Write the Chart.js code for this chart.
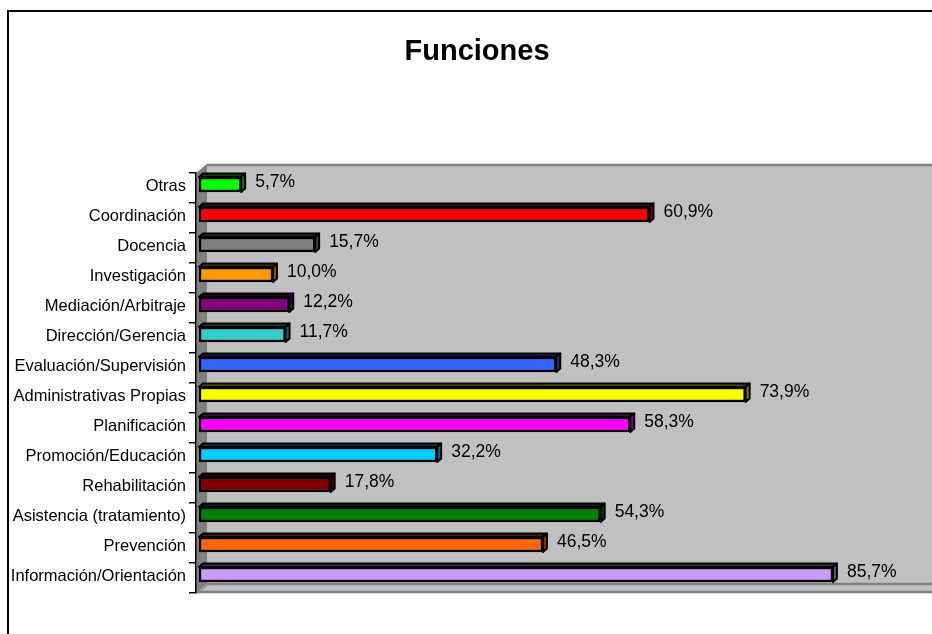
<!DOCTYPE html>
<html>
<head>
<meta charset="utf-8">
<script src="https://cdn.jsdelivr.net/npm/chart.js@4/dist/chart.umd.min.js"></script>
<style>
html,body{margin:0;padding:0;background:#fff;}
#c{display:block;width:932px;height:634px;}
</style>
</head>
<body>
<canvas id="c" width="932" height="634"></canvas>
<script>
// ---- data (top to bottom) ----
const titleText = 'Funciones';
const categories = [
  'Otras', 'Coordinación', 'Docencia', 'Investigación', 'Mediación/Arbitraje',
  'Dirección/Gerencia', 'Evaluación/Supervisión', 'Administrativas Propias',
  'Planificación', 'Promoción/Educación', 'Rehabilitación',
  'Asistencia (tratamiento)', 'Prevención', 'Información/Orientación'
];
const values = [5.7, 60.9, 15.7, 10.0, 12.2, 11.7, 48.3, 73.9, 58.3, 32.2, 17.8, 54.3, 46.5, 85.7];
const barColors = [
  '#00FF00', '#FF0000', '#808080', '#FF9900', '#800080',
  '#33CCCC', '#3366FF', '#FFFF00', '#FF00FF', '#00CCFF',
  '#800000', '#008000', '#FF6600', '#CC99FF'
];
const xMin = 0;
const xMax = 99.5;

// ---- styling constants ----
const FONT = '"Liberation Sans", Arial, Helvetica, sans-serif';
const WALL = {dx: 11, dy: 9};
const BAR_SHIFT = {dx: 3, dy: -3.5};
const BAR_DEPTH = {dx: 4, dy: 3.5};

function shade(hex, f) {
  const n = parseInt(hex.slice(1), 16);
  const r = Math.round(((n >> 16) & 255) * f);
  const g = Math.round(((n >> 8) & 255) * f);
  const b = Math.round((n & 255) * f);
  return `rgb(${r},${g},${b})`;
}
function poly(ctx, pts) {
  ctx.beginPath();
  ctx.moveTo(pts[0], pts[1]);
  for (let i = 2; i < pts.length; i += 2) ctx.lineTo(pts[i], pts[i + 1]);
  ctx.closePath();
}
function fmt(v) { return v.toFixed(1).replace('.', ',') + '%'; }

const scenePlugin = {
  id: 'scene',
  beforeDraw(chart) {
    const ctx = chart.ctx, a = chart.chartArea;
    const W = chart.width, H = chart.height;
    ctx.save();
    ctx.fillStyle = '#fff';
    ctx.fillRect(0, 0, W, H);
    // outer frame
    ctx.strokeStyle = '#000';
    ctx.lineWidth = 2;
    ctx.beginPath();
    ctx.moveTo(8, H + 2); ctx.lineTo(8, 11); ctx.lineTo(W + 2, 11);
    ctx.stroke();
    // title
    ctx.fillStyle = '#000';
    ctx.font = 'bold 29px ' + FONT;
    ctx.textAlign = 'center';
    ctx.textBaseline = 'alphabetic';
    ctx.fillText(titleText, 477, 59.5);
    // walls
    const bx = a.left + WALL.dx, by = a.top - WALL.dy, bb = a.bottom - WALL.dy;
    const R = W + 20;
    ctx.fillStyle = '#C0C0C0';
    ctx.fillRect(bx, by, R - bx, bb - by);
    ctx.fillStyle = '#808080';
    poly(ctx, [a.left, a.top, bx, by, bx, bb, a.left, a.bottom]);
    ctx.fill();
    ctx.fillStyle = '#C0C0C0';
    poly(ctx, [a.left, a.bottom, bx, bb, R, bb, R, a.bottom]);
    ctx.fill();
    ctx.fillStyle = '#9a9a9a';
    poly(ctx, [a.left, a.bottom, bx, bb, bx + 3, bb, a.left + 3, a.bottom]);
    ctx.fill();
    ctx.strokeStyle = '#808080';
    ctx.lineWidth = 2.5;
    ctx.beginPath();
    ctx.moveTo(bx, by + 1); ctx.lineTo(R, by + 1);
    ctx.moveTo(bx, bb); ctx.lineTo(R, bb);
    ctx.moveTo(a.left, a.bottom - 1); ctx.lineTo(R, a.bottom - 1);
    ctx.stroke();
    ctx.restore();
  },
  beforeDatasetsDraw(chart) {
    chart.ctx.save();
    chart.ctx.translate(BAR_SHIFT.dx, BAR_SHIFT.dy);
  },
  afterDatasetsDraw(chart) {
    const ctx = chart.ctx;
    const meta = chart.getDatasetMeta(0);
    meta.data.forEach((el, i) => {
      const p = el.getProps(['x', 'y', 'base', 'height'], true);
      const l = Math.min(p.base, p.x), r = Math.max(p.base, p.x);
      const t = p.y - p.height / 2, b = p.y + p.height / 2;
      const dx = BAR_DEPTH.dx, dy = BAR_DEPTH.dy;
      ctx.lineWidth = 2;
      ctx.strokeStyle = '#000';
      ctx.lineJoin = 'round';
      ctx.fillStyle = shade(barColors[i], 0.3);
      poly(ctx, [l, t, l + dx, t - dy, r + dx, t - dy, r, t]);
      ctx.fill(); ctx.stroke();
      ctx.fillStyle = shade(barColors[i], 0.5);
      poly(ctx, [r, t, r + dx, t - dy, r + dx, b - dy, r, b]);
      ctx.fill(); ctx.stroke();
    });
    ctx.restore();
    // value labels
    ctx.save();
    ctx.fillStyle = '#000';
    ctx.font = '17.5px ' + FONT;
    ctx.textAlign = 'left';
    ctx.textBaseline = 'middle';
    meta.data.forEach((el, i) => {
      const p = el.getProps(['x', 'y'], true);
      ctx.fillText(fmt(values[i]), p.x + BAR_SHIFT.dx + 14, p.y - 5.5);
    });
    ctx.restore();
  }
};

new Chart(document.getElementById('c'), {
  type: 'bar',
  data: {
    labels: categories,
    datasets: [{
      data: values,
      backgroundColor: barColors,
      borderColor: '#000',
      borderWidth: 2.5,
      borderSkipped: false,
      barThickness: 15
    }]
  },
  options: {
    indexAxis: 'y',
    responsive: false,
    animation: false,
    devicePixelRatio: 1,
    layout: {padding: {top: 173, bottom: 41, left: 0, right: 0}},
    plugins: {
      legend: {display: false},
      title: {display: false},
      tooltip: {enabled: false}
    },
    scales: {
      x: {type: 'linear', display: false, min: xMin, max: xMax},
      y: {
        type: 'category',
        position: 'left',
        offset: true,
        grid: {display: true, drawOnChartArea: false, drawTicks: true, tickLength: 7, color: '#000', lineWidth: 1.5, offset: true},
        border: {display: true, color: '#000', width: 1.5},
        ticks: {color: '#000', font: {family: FONT, size: 16.5}, padding: 3, autoSkip: false, labelOffset: -2},
        afterFit(scale) { scale.width = 196; }
      }
    }
  },
  plugins: [scenePlugin]
});
</script>
</body>
</html>
